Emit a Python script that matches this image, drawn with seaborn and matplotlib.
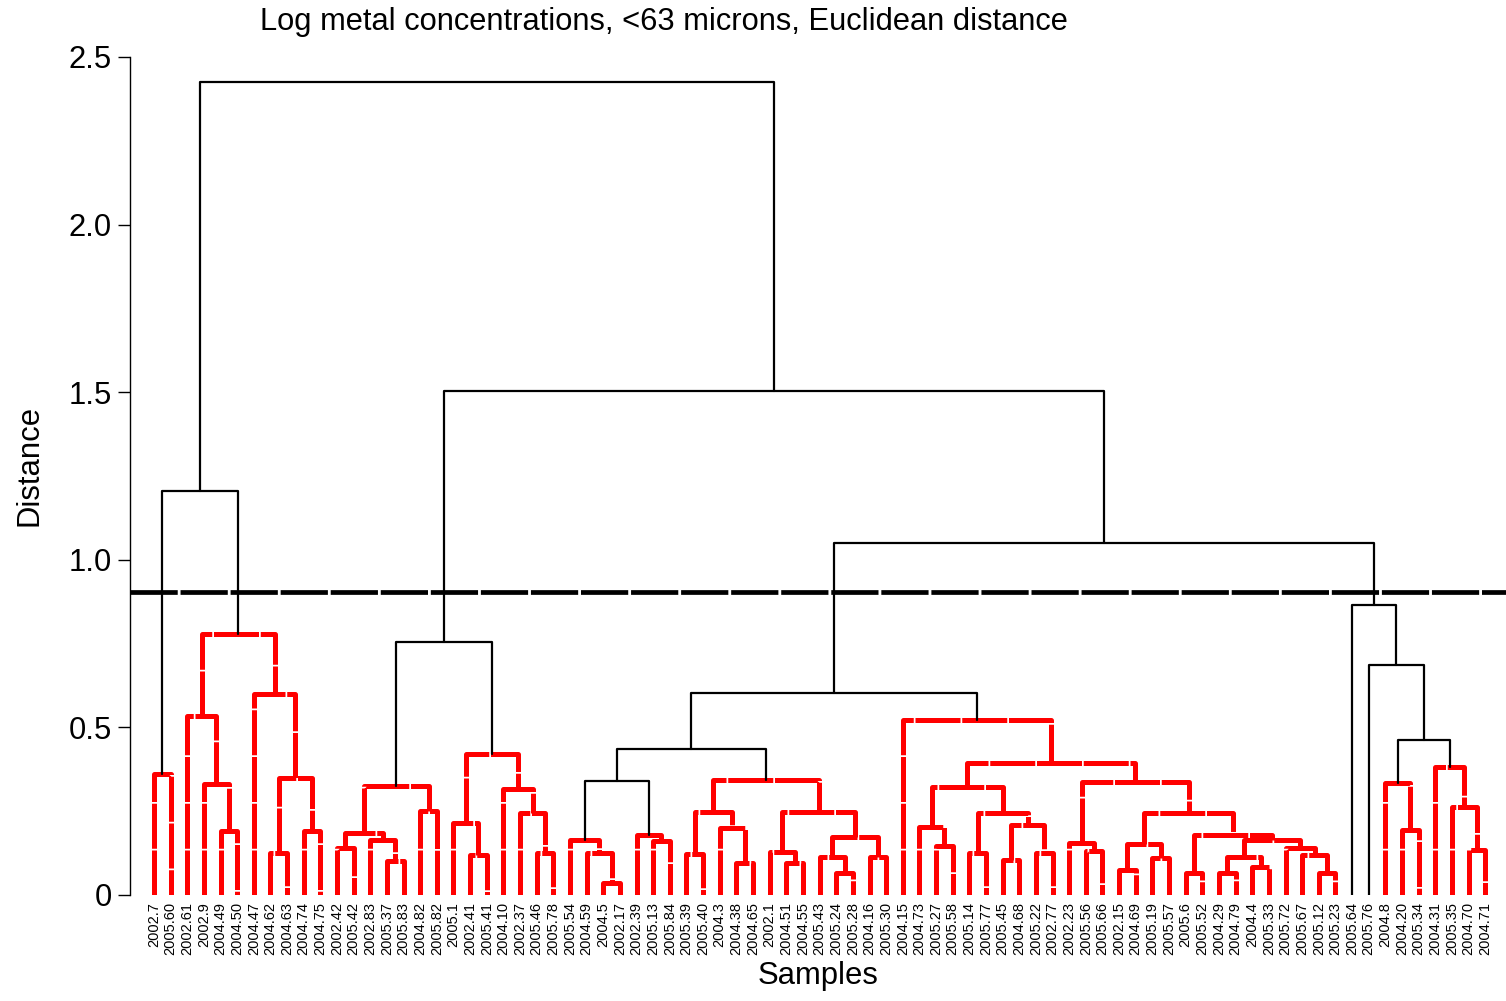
import numpy as np
import pandas as pd
import matplotlib
matplotlib.use("Agg")
import matplotlib.pyplot as plt
import seaborn as sns

# ---------------- data ----------------
leaf_labels = [
    "2002.7", "2005.60", "2002.61", "2002.9", "2004.49", "2004.50", "2004.47",
    "2004.62", "2004.63", "2004.74", "2004.75",
    "2002.42", "2005.42", "2002.83", "2005.37", "2005.83", "2004.82", "2005.82",
    "2005.1", "2002.41", "2005.41", "2004.10", "2002.37", "2005.46", "2005.78",
    "2005.54", "2004.59", "2004.5", "2002.17", "2002.39", "2005.13", "2005.84",
    "2005.39", "2005.40", "2004.3", "2004.38", "2004.65", "2002.1", "2004.51",
    "2004.55", "2005.43", "2005.24", "2005.28", "2004.16", "2005.30", "2004.15",
    "2004.73", "2005.27", "2005.58", "2005.14", "2005.77", "2005.45", "2004.68",
    "2005.22", "2002.77", "2002.23", "2005.56", "2005.66", "2002.15", "2004.69",
    "2005.19", "2005.57", "2005.6", "2005.52", "2004.29", "2004.79", "2004.4",
    "2005.33", "2005.72", "2005.67", "2005.12", "2005.23",
    "2005.64", "2005.76", "2004.8", "2004.20", "2005.34", "2004.31", "2005.35",
    "2004.70", "2004.71",
]

# merges: (node, left child, right child, height, colour); ints = leaf positions
group_a_merges = [
    ("a1", 0, 1, 0.36, "r"), ("a2", 4, 5, 0.19, "r"), ("a3", 3, "a2", 0.33, "r"),
    ("a4", 2, "a3", 0.535, "r"), ("a5", 7, 8, 0.125, "r"), ("a6", 9, 10, 0.19, "r"),
    ("a7", "a5", "a6", 0.35, "r"), ("a8", 6, "a7", 0.60, "r"),
    ("a9", "a4", "a8", 0.78, "r"), ("A", "a1", "a9", 1.205, "k"),
]
group_b_merges = [
    ("b1", 11, 12, 0.14, "r"), ("b2", 14, 15, 0.10, "r"), ("b3", 13, "b2", 0.165, "r"),
    ("b4", "b1", "b3", 0.185, "r"), ("b5", 16, 17, 0.25, "r"), ("b6", "b4", "b5", 0.325, "r"),
    ("b7", 19, 20, 0.12, "r"), ("b8", 18, "b7", 0.215, "r"), ("b9", 23, 24, 0.125, "r"),
    ("b10", 22, "b9", 0.245, "r"), ("b11", 21, "b10", 0.315, "r"),
    ("b12", "b8", "b11", 0.42, "r"), ("B", "b6", "b12", 0.755, "k"),
]
group_c_merges = [
    ("c1", 27, 28, 0.035, "r"), ("c2", 26, "c1", 0.125, "r"), ("c3", 25, "c2", 0.165, "r"),
    ("c4", 30, 31, 0.16, "r"), ("c5", 29, "c4", 0.18, "r"), ("c6", "c3", "c5", 0.34, "k"),
    ("c7", 32, 33, 0.122, "r"), ("c8", 35, 36, 0.095, "r"), ("c9", 34, "c8", 0.20, "r"),
    ("c10", "c7", "c9", 0.247, "r"), ("c11", 38, 39, 0.095, "r"), ("c12", 37, "c11", 0.128, "r"),
    ("c13", 41, 42, 0.065, "r"), ("c14", 40, "c13", 0.113, "r"), ("c15", 43, 44, 0.113, "r"),
    ("c16", "c14", "c15", 0.173, "r"), ("c17", "c12", "c16", 0.247, "r"),
    ("c18", "c10", "c17", 0.343, "r"), ("c19", "c6", "c18", 0.435, "k"),
    ("c20", 47, 48, 0.146, "r"), ("c21", 46, "c20", 0.203, "r"), ("c22", 49, 50, 0.125, "r"),
    ("c23", 51, 52, 0.105, "r"), ("c24", 53, 54, 0.125, "r"), ("c25", "c23", "c24", 0.21, "r"),
    ("c26", "c22", "c25", 0.245, "r"), ("c27", "c21", "c26", 0.322, "r"),
    ("c28", 56, 57, 0.13, "r"), ("c29", 55, "c28", 0.155, "r"), ("c30", 58, 59, 0.075, "r"),
    ("c31", 60, 61, 0.11, "r"), ("c32", "c30", "c31", 0.152, "r"), ("c33", 62, 63, 0.065, "r"),
    ("c34", 64, 65, 0.065, "r"), ("c35", 66, 67, 0.085, "r"), ("c36", "c34", "c35", 0.113, "r"),
    ("c37", 70, 71, 0.065, "r"), ("c38", 69, "c37", 0.12, "r"), ("c39", 68, "c38", 0.14, "r"),
    ("c40", "c36", "c39", 0.164, "r"), ("c41", "c33", "c40", 0.18, "r"),
    ("c42", "c32", "c41", 0.245, "r"), ("c43", "c29", "c42", 0.337, "r"),
    ("c44", "c27", "c43", 0.395, "r"), ("c45", 45, "c44", 0.522, "r"),
    ("C", "c19", "c45", 0.603, "k"),
]
group_d_merges = [
    ("d1", 75, 76, 0.194, "r"), ("d2", 74, "d1", 0.334, "r"), ("d3", 79, 80, 0.134, "r"),
    ("d4", 78, "d3", 0.262, "r"), ("d5", 77, "d4", 0.382, "r"), ("d6", "d2", "d5", 0.462, "k"),
    ("d7", 73, "d6", 0.686, "k"), ("D", 72, "d7", 0.865, "k"),
]
top_merges = [
    ("E", "C", "D", 1.05, "k"), ("F", "B", "E", 1.503, "k"), ("root", "A", "F", 2.425, "k"),
]
cut_height = 0.905
ytick_values = [0, 0.5, 1.0, 1.5, 2.0, 2.5]
ytick_labels = ["0", "0.5", "1.0", "1.5", "2.0", "2.5"]

# ---------------- build link paths ----------------
pos = {i: float(i) for i in range(len(leaf_labels))}
hgt = {i: 0.0 for i in range(len(leaf_labels))}
rows = []
for name, l, r, h, c in group_a_merges + group_b_merges + group_c_merges + group_d_merges + top_merges:
    xl, xr = pos[l], pos[r]
    for k, (x, y) in enumerate([(xl, hgt[l]), (xl, h), (xr, h), (xr, hgt[r])]):
        rows.append({"link": name, "order": k, "x": x, "y": y, "colour": c})
    pos[name] = (xl + xr) / 2
    hgt[name] = h
links = pd.DataFrame(rows)

# ---------------- figure ----------------
sns.set_theme(style="ticks")
plt.rcParams["font.family"] = ["Liberation Sans", "DejaVu Sans"]
plt.rcParams["text.color"] = "black"
plt.rcParams["xtick.labelcolor"] = "black"
plt.rcParams["ytick.labelcolor"] = "black"

fig = plt.figure(figsize=(15.06, 10.01), dpi=100)
ax = fig.add_axes([130 / 1506, 106 / 1001, 1376 / 1506, 838 / 1001])

sns.lineplot(data=links[links.colour == "r"], x="x", y="y", units="link",
             estimator=None, sort=False, color="#ff0000", linewidth=3.6,
             linestyle=(0, (9, 0.35)), solid_capstyle="butt", ax=ax)
sns.lineplot(data=links[links.colour == "k"], x="x", y="y", units="link",
             estimator=None, sort=False, color="black", linewidth=1.6, ax=ax)

ax.axhline(cut_height, color="black", linewidth=3.4, linestyle=(0, (10, 0.6)))

ax.set_xlim(-1.44, 81.25)
ax.set_ylim(0, 2.5)
ax.set_xticks(range(len(leaf_labels)))
ax.set_xticklabels(leaf_labels, rotation=90, fontsize=10.5, color="black")
ax.tick_params(axis="x", length=0, pad=5)
ax.set_yticks(ytick_values)
ax.set_yticklabels(ytick_labels, color="black")
ax.tick_params(axis="y", direction="out", length=9, width=1, labelsize=22.3, pad=4, color="black")
ax.set_xlabel("")
ax.set_ylabel("")
sns.despine(ax=ax, bottom=True)
ax.spines["left"].set_color("black")
ax.spines["left"].set_linewidth(1)

fig.text(664 / 1506, 1 - 22 / 1001, "Log metal concentrations, <63 microns, Euclidean distance",
         ha="center", va="center", fontsize=22.2, color="black")
fig.text(30 / 1506, 1 - 465 / 1001, "Distance", ha="center", va="center", rotation=90,
         fontsize=22.3, color="black")
fig.text(818 / 1506, 1 - 976 / 1001, "Samples", ha="center", va="center", fontsize=22.3, color="black")

fig.savefig("out.png", dpi=100)
